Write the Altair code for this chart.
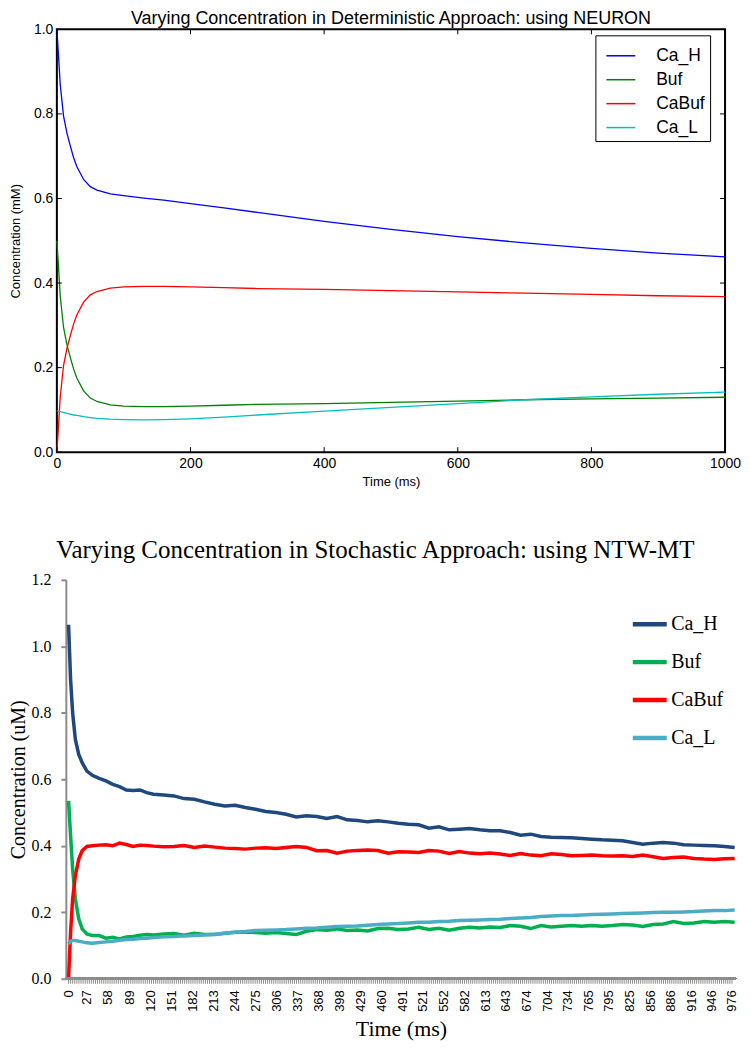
import altair as alt
import pandas as pd

SERIES = ["Ca_H", "Buf", "CaBuf", "Ca_L"]
DET_COLORS = ["#0000ff", "#008000", "#ff0000", "#00bfbf"]
STO_COLORS = ["#1f497d", "#00b050", "#ff0000", "#4bacc6"]

# ---------- deterministic (NEURON) ----------
T_DET = [0, 2, 5, 10, 15, 20, 25, 30, 40, 50, 60, 80, 100, 130, 160, 200, 250,
         300, 400, 500, 600, 700, 800, 900, 1000]
DET_CA_H = [1.0, 0.95, 0.87, 0.795, 0.755, 0.725, 0.697, 0.675, 0.645, 0.628, 0.62,
            0.611, 0.607, 0.601, 0.596, 0.588, 0.578, 0.567, 0.546, 0.527, 0.51,
            0.495, 0.482, 0.471, 0.462]
DET_BUF = [0.5, 0.45, 0.37, 0.295, 0.255, 0.225, 0.197, 0.175, 0.145, 0.128, 0.12,
           0.112, 0.109, 0.108, 0.108, 0.109, 0.111, 0.113, 0.115, 0.118, 0.121,
           0.124, 0.126, 0.128, 0.13]
DET_CABUF = [0.0, 0.05, 0.13, 0.205, 0.245, 0.275, 0.303, 0.325, 0.355, 0.372, 0.38,
             0.388, 0.391, 0.392, 0.392, 0.391, 0.389, 0.387, 0.385, 0.382, 0.379,
             0.376, 0.373, 0.37, 0.368]
DET_CA_L = [0.098, 0.097, 0.096, 0.094, 0.092, 0.09, 0.088, 0.087, 0.084, 0.082, 0.08,
            0.078, 0.077, 0.0765, 0.077, 0.079, 0.083, 0.088, 0.097, 0.106, 0.115,
            0.124, 0.131, 0.137, 0.142]
DET_XTICKS = [0, 200, 400, 600, 800, 1000]
DET_YTICKS = [0.0, 0.2, 0.4, 0.6, 0.8, 1.0]

# ---------- stochastic (NTW-MT) ----------
T_STO = [0, 3, 6, 10, 15, 20, 27, 35, 45, 55, 65, 75, 85, 95, 105, 115, 125, 140, 155,
         170, 185, 200, 215, 230, 245, 260, 275, 290, 305, 320, 335, 350, 365, 380,
         395, 410, 425, 440, 455, 470, 485, 500, 515, 530, 545, 560, 575, 590, 605,
         620, 635, 650, 665, 680, 695, 710, 725, 740, 755, 770, 785, 800, 815, 830,
         845, 860, 875, 890, 905, 920, 935, 950, 965, 980]
STO_CA_H = [1.065, 0.90, 0.80, 0.72, 0.675, 0.65, 0.625, 0.612, 0.603, 0.595, 0.585,
            0.578, 0.568, 0.566, 0.568, 0.56, 0.555, 0.553, 0.55, 0.542, 0.54, 0.532,
            0.525, 0.52, 0.522, 0.515, 0.51, 0.503, 0.5, 0.495, 0.487, 0.49, 0.488,
            0.482, 0.488, 0.478, 0.476, 0.472, 0.475, 0.472, 0.468, 0.465, 0.463,
            0.453, 0.457, 0.448, 0.45, 0.452, 0.448, 0.445, 0.445, 0.44, 0.432, 0.435,
            0.428, 0.426, 0.425, 0.424, 0.422, 0.42, 0.418, 0.417, 0.415, 0.41, 0.405,
            0.408, 0.41, 0.408, 0.403, 0.402, 0.401, 0.4, 0.398, 0.395]
STO_BUF = [0.535, 0.43, 0.33, 0.24, 0.18, 0.15, 0.135, 0.13, 0.13, 0.122, 0.125, 0.12,
           0.126, 0.127, 0.131, 0.133, 0.132, 0.135, 0.136, 0.131, 0.137, 0.133, 0.133,
           0.137, 0.14, 0.141, 0.139, 0.137, 0.139, 0.136, 0.133, 0.143, 0.148, 0.146,
           0.15, 0.145, 0.147, 0.144, 0.151, 0.152, 0.148, 0.15, 0.155, 0.148, 0.152,
           0.146, 0.152, 0.155, 0.153, 0.156, 0.154, 0.16, 0.158, 0.151, 0.16, 0.156,
           0.158, 0.16, 0.158, 0.16, 0.158, 0.16, 0.163, 0.162, 0.157, 0.163, 0.165,
           0.172, 0.166, 0.168, 0.172, 0.17, 0.172, 0.17]
STO_CABUF = [0.0, 0.14, 0.24, 0.31, 0.36, 0.385, 0.398, 0.4, 0.402, 0.403, 0.4, 0.408,
             0.404, 0.398, 0.402, 0.401, 0.399, 0.397, 0.398, 0.401, 0.395, 0.399,
             0.396, 0.393, 0.392, 0.39, 0.393, 0.394, 0.392, 0.395, 0.398, 0.395, 0.385,
             0.386, 0.378, 0.384, 0.386, 0.387, 0.386, 0.378, 0.382, 0.381, 0.38, 0.386,
             0.384, 0.377, 0.383, 0.378, 0.376, 0.378, 0.375, 0.371, 0.377, 0.372, 0.37,
             0.376, 0.374, 0.37, 0.371, 0.372, 0.37, 0.369, 0.37, 0.368, 0.372, 0.367,
             0.362, 0.365, 0.366, 0.362, 0.36, 0.359, 0.361, 0.362]
STO_CA_L = [0.105, 0.113, 0.115, 0.115, 0.113, 0.111, 0.108, 0.107, 0.109, 0.111,
            0.113, 0.116, 0.118, 0.119, 0.121, 0.122, 0.124, 0.126, 0.127, 0.129, 0.13,
            0.132, 0.134, 0.137, 0.14, 0.142, 0.145, 0.146, 0.147, 0.148, 0.15, 0.152,
            0.153, 0.155, 0.157, 0.158, 0.159, 0.161, 0.163, 0.165, 0.166, 0.168, 0.17,
            0.17, 0.172, 0.173, 0.175, 0.176, 0.177, 0.178, 0.179, 0.181, 0.183, 0.184,
            0.187, 0.189, 0.19, 0.19, 0.192, 0.193, 0.194, 0.195, 0.196, 0.197, 0.198,
            0.199, 0.2, 0.2, 0.201, 0.202, 0.204, 0.205, 0.205, 0.207]
STO_XLABELS = [0, 27, 58, 89, 120, 151, 182, 213, 244, 275, 306, 337, 368, 398, 429,
               460, 491, 521, 552, 582, 613, 643, 674, 704, 734, 765, 795, 825, 856,
               886, 916, 946, 976]
STO_YTICKS = [0.0, 0.2, 0.4, 0.6, 0.8, 1.0, 1.2]
STO_MINOR = [round(i * 976 / 320, 2) for i in range(321)]


def long_df(times, cols):
    rows = []
    for name, vals in zip(SERIES, cols):
        for t, v in zip(times, vals):
            rows.append({"time": t, "value": v, "series": name})
    return pd.DataFrame(rows)


det_df = long_df(T_DET, [DET_CA_H, DET_BUF, DET_CABUF, DET_CA_L])
sto_df = long_df(T_STO, [STO_CA_H, STO_BUF, STO_CABUF, STO_CA_L])

SANS = "Liberation Sans"
SERIF = "Liberation Serif"

# ---------------- top panel ----------------
W1, H1 = 670, 424

x1 = alt.X("time:Q", scale=alt.Scale(domain=[0, 1000], nice=False),
           axis=alt.Axis(values=DET_XTICKS, format="d", ticks=False, domain=False,
                         grid=False, labelFont=SANS, labelFontSize=14, labelPadding=4,
                         labelFlush=False, labelColor="black",
                         title="Time (ms)", titleFont=SANS, titleFontSize=13,
                         titleFontWeight="normal", titlePadding=5, titleColor="black"))
y1 = alt.Y("value:Q", scale=alt.Scale(domain=[0, 1], nice=False),
           axis=alt.Axis(values=DET_YTICKS, format=".1f", ticks=False, domain=False,
                         grid=False, labelFont=SANS, labelFontSize=14, labelPadding=4,
                         labelFlush=False, labelColor="black",
                         title="Concentration (mM)", titleFont=SANS, titleFontSize=13,
                         titleFontWeight="normal", titlePadding=11, titleColor="black"))

det_lines = alt.Chart(det_df).mark_line(strokeWidth=1.3).encode(
    x=x1, y=y1,
    color=alt.Color("series:N",
                    scale=alt.Scale(domain=SERIES, range=DET_COLORS),
                    sort=SERIES,
                    legend=alt.Legend(orient="none", legendX=540, legendY=6,
                                      title=None, strokeColor="black",
                                      fillColor="white", padding=5,
                                      symbolType="stroke", symbolSize=841,
                                      symbolStrokeWidth=1.5, symbolOffset=5,
                                      labelFont=SANS, labelFontSize=17.5,
                                      labelOffset=20, rowPadding=-5,
                                      labelColor="black")),
)

xt_df = pd.DataFrame({"time": DET_XTICKS})
yt_df = pd.DataFrame({"value": DET_YTICKS})
tick_style = dict(color="black", strokeWidth=1)
xt_bottom = alt.Chart(xt_df).mark_rule(**tick_style).encode(
    x="time:Q", y=alt.value(H1), y2=alt.value(H1 - 5))
xt_top = alt.Chart(xt_df).mark_rule(**tick_style).encode(
    x="time:Q", y=alt.value(0), y2=alt.value(5))
yt_left = alt.Chart(yt_df).mark_rule(**tick_style).encode(
    y="value:Q", x=alt.value(0), x2=alt.value(5))
yt_right = alt.Chart(yt_df).mark_rule(**tick_style).encode(
    y="value:Q", x=alt.value(W1), x2=alt.value(W1 - 5))

top = alt.layer(det_lines, xt_bottom, xt_top, yt_left, yt_right).properties(
    width=W1, height=H1,
    title=alt.Title("Varying Concentration in Deterministic Approach: using NEURON",
                    font=SANS, fontSize=18, fontWeight="normal", offset=-6,
                    color="black"),
    view=alt.ViewBackground(stroke="black", strokeWidth=2),
)

# ---------------- bottom panel ----------------
# plot group shares its left origin with the top panel; the y axis is drawn
# 9 px further right (as in the reference) with a negative axis offset.
AX_SHIFT = 9
W2, H2 = 681, 400
GRAY = "#8c8c8c"
x2 = alt.X("time:Q", scale=alt.Scale(domain=[-17.2, 982], nice=False),
           axis=alt.Axis(values=STO_XLABELS, ticks=False, domain=False, grid=False,
                         labelAngle=270, labelAlign="right", labelBaseline="middle",
                         labelFont=SANS, labelFontSize=13, labelPadding=11,
                         labelFlush=False, labelOverlap=False, labelColor="black",
                         title="Time (ms)", titleFont=SERIF, titleFontSize=22,
                         titleFontWeight="normal", titlePadding=7, titleColor="black",
                         titleX=(W2 + AX_SHIFT) / 2))
y2 = alt.Y("value:Q", scale=alt.Scale(domain=[0, 1.2], nice=False),
           axis=alt.Axis(values=STO_YTICKS, format=".1f", ticks=True, tickSize=5,
                         tickColor=GRAY, tickWidth=2, domain=True, domainColor=GRAY,
                         domainWidth=2, grid=False, offset=-AX_SHIFT,
                         labelFont=SERIF, labelFontSize=16,
                         labelPadding=10, labelFlush=False, labelColor="black",
                         title="Concentration (uM)", titleFont=SERIF,
                         titleFontSize=20, titleFontWeight="normal", titlePadding=2,
                         titleColor="black"))

sto_lines = alt.Chart(sto_df).mark_line(strokeWidth=3.5).encode(
    x=x2, y=y2,
    color=alt.Color("series:N",
                    scale=alt.Scale(domain=SERIES, range=STO_COLORS),
                    sort=SERIES,
                    legend=alt.Legend(orient="none", legendX=575, legendY=25,
                                      title=None, padding=0,
                                      symbolType="stroke", symbolSize=1156,
                                      symbolStrokeWidth=4.5, labelFont=SERIF,
                                      labelFontSize=20, labelOffset=2,
                                      rowPadding=8, labelColor="black")),
)

minor_df = pd.DataFrame({"time": STO_MINOR})
minor_ticks = alt.Chart(minor_df).mark_rule(color=GRAY, strokeWidth=1).encode(
    x=x2, y=alt.value(H2), y2=alt.value(H2 + 5))
x_axis_line = alt.Chart(minor_df).mark_rule(color=GRAY, strokeWidth=2).encode(
    x=alt.value(AX_SHIFT), x2=alt.value(W2), y=alt.value(H2))

bottom = alt.layer(sto_lines, minor_ticks, x_axis_line).properties(
    width=W2, height=H2,
    title=alt.Title("Varying Concentration in Stochastic Approach: using NTW-MT",
                    font=SERIF, fontSize=25, fontWeight="normal", offset=9,
                    frame="bounds", color="black"),
    view=alt.ViewBackground(stroke="transparent"),
)

chart = alt.concat(top, bottom, columns=1, spacing=48, padding=0).resolve_scale(
    color="independent").resolve_legend(color="independent")

chart.save("out.html", embed_options={"renderer": "svg", "actions": False})
